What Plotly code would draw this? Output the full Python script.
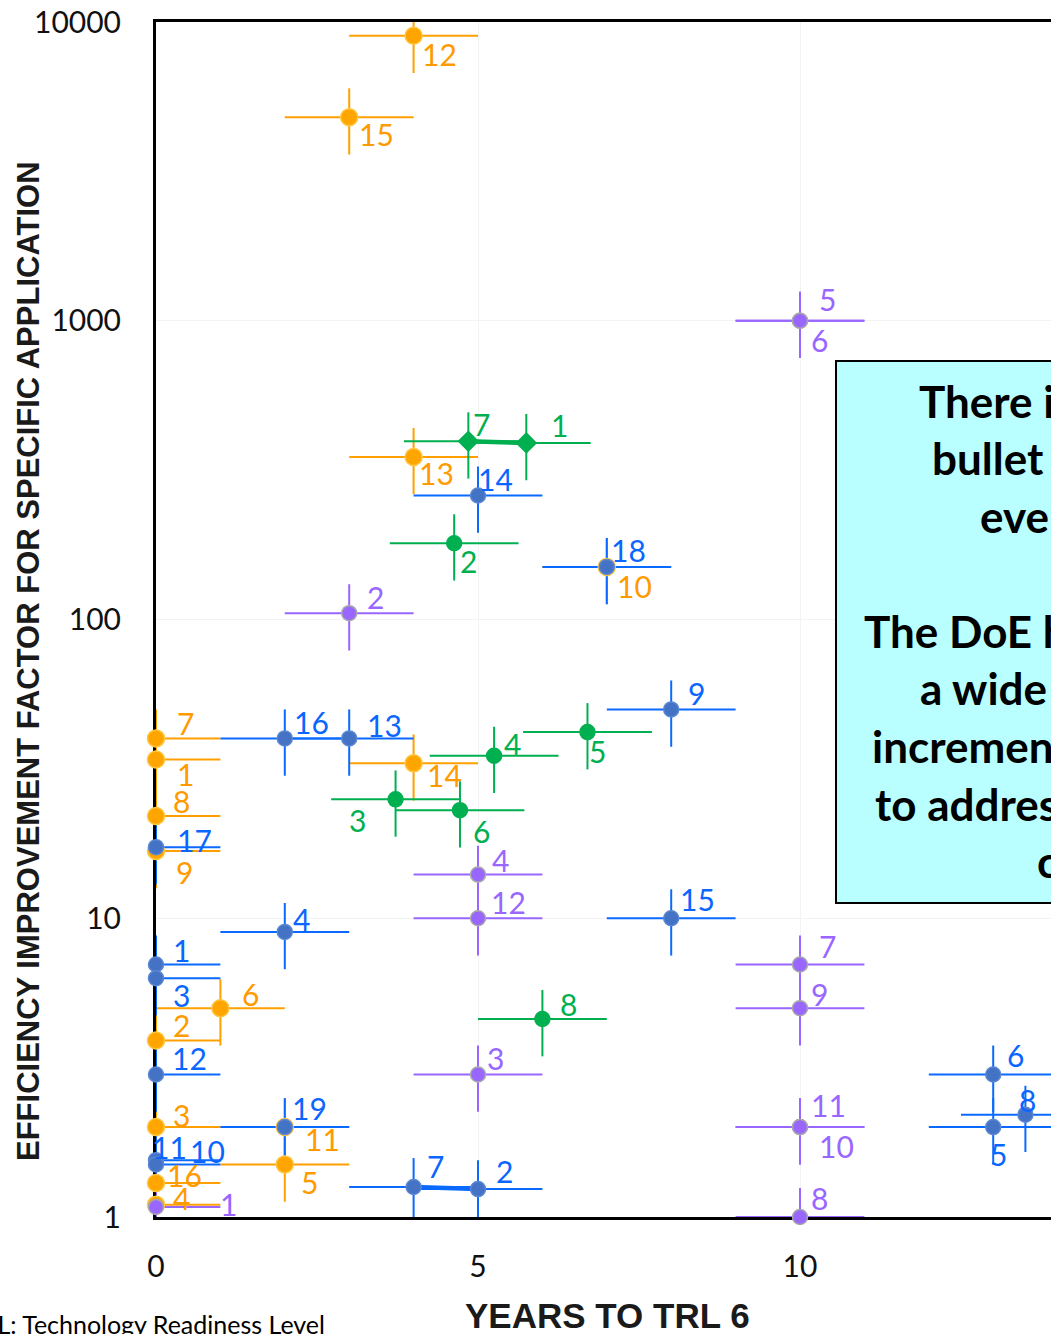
import math
import plotly.graph_objects as go

# ---------------------------------------------------------------------------
# Data: years to TRL 6 and efficiency improvement factor, one list per group
# ---------------------------------------------------------------------------
orange_ids = ["12", "15", "13", "10", "14", "7", "1", "8", "9", "6", "2", "3", "11", "5", "16", "4"]
orange_years = [4, 3, 4, 7, 4, 0, 0, 0, 0, 1, 0, 0, 2, 2, 0, 0]
orange_factor = [9000, 4800, 350, 150, 33, 40, 34, 22, 16.8, 5, 3.9, 2, 2, 1.5, 1.3, 1.1]

blue_ids = ["16", "13", "14", "18", "9", "4", "15", "1", "3", "12", "19", "11", "10", "7", "2", "6", "8", "5", "17"]
blue_years = [2, 3, 5, 7, 8, 2, 8, 0, 0, 0, 2, 0, 0, 4, 5, 13, 13.5, 13, 0]
blue_factor = [40, 40, 260, 150, 50, 9, 10, 7, 6.3, 3, 2, 1.55, 1.5, 1.26, 1.24, 3, 2.2, 2, 17.3]

purple_ids = ["5", "6", "2", "4", "12", "3", "7", "9", "11", "10", "8", "1"]
purple_years = [10, 10, 3, 5, 5, 5, 10, 10, 10, 10, 10, 0]
purple_factor = [1000, 1000, 105, 14, 10, 3, 7, 5, 2, 2, 1, 1.08]

green_ids = ["7", "1", "2", "4", "5", "3", "6", "8"]
green_years = [4.85, 5.75, 4.63, 5.25, 6.7, 3.72, 4.72, 6.0]
green_factor = [395, 390, 180, 35, 42, 25, 23, 4.6]

# uncertainty on every estimate
year_spread = 1.0          # +/- years
factor_spread_pct = 25     # +/- percent

# pairs of estimates joined by a bar
linked = [("green", "7", "1"), ("blue", "7", "2")]

x_ticks = [0, 5, 10]
y_ticks = [1, 10, 100, 1000, 10000]

box_lines = [
    "There is no silver",
    "bullet that will fix",
    "everything.",
    "",
    "The DoE has funded",
    "a wide variety of",
    "incremental approaches",
    "to address different",
    "challenges.",
]

# ---------------------------------------------------------------------------
# Styling
# ---------------------------------------------------------------------------
W, H = 1051, 1334
PL, PR, PT, PB = 156, 1051, 22, 1217      # plot area edges (px)
PX_PER_YEAR = 64.4

LABEL_FONT = "Lato"
TITLE_FONT = "Liberation Sans"

groups = {
    "orange": dict(ids=orange_ids, x=orange_years, y=orange_factor, size=17,
                   line="#FFA000", fill="#FFA500", edge="#FFC640", text="#FF9A00"),
    "blue": dict(ids=blue_ids, x=blue_years, y=blue_factor, size=15,
                 line="#0A6AFF", fill="#4472C4", edge="#5A86D2", text="#0A66FF"),
    "purple": dict(ids=purple_ids, x=purple_years, y=purple_factor, size=15,
                   line="#9966FF", fill="#9966FF", edge="#A8A8A8", text="#9966FF"),
    "green": dict(ids=green_ids, x=green_years, y=green_factor, size=15,
                  line="#00B050", fill="#00B050", edge="#00B050", text="#00B050"),
}
draw_order = ["orange", "blue", "purple", "green"]

diamond_points = {("green", "7"), ("green", "1")}

# label offset from its point, in screen pixels (right, down)
label_offset = {
    "orange": {"12": (26, 18), "15": (27, 17), "13": (23, 16), "10": (28, 19), "14": (31, 12),
               "7": (29, -15), "1": (29, 15), "8": (25, -15), "9": (28, 21), "6": (30, -14),
               "2": (25, -15), "3": (25, -12), "11": (38, 12), "5": (25, 18), "16": (28, -8),
               "4": (25, -7)},
    "blue": {"16": (27, -16), "13": (35, -13), "14": (17, -17), "18": (22, -17), "9": (25, -16),
             "4": (17, -13), "15": (26, -19), "1": (25, -15), "3": (25, 17), "12": (33, -16),
             "19": (25, -19), "11": (13, -13), "10": (51, -13), "7": (22, -21), "2": (26, -18),
             "6": (22, -19), "8": (2, -15), "5": (5, 27), "17": (38, -7)},
    "purple": {"5": (27, -22), "6": (19, 19), "2": (26, -16), "4": (22, -15), "12": (30, -16),
               "3": (17, -16), "7": (27, -19), "9": (19, -14), "11": (28, -22), "10": (36, 19),
               "8": (19, -19), "1": (72, -3)},
    "green": {"7": (13, -17), "1": (33, -18), "2": (14, 18), "4": (18, -12), "5": (10, 19),
              "3": (-38, 21), "6": (22, 21), "8": (26, -15)},
}


def paper_x(px):
    return (px - PL) / (PR - PL)


def paper_y(py):
    return (PB - py) / (PB - PT)


fig = go.Figure()

# error bars (clipped to the plot area)
for g in draw_order:
    s = groups[g]
    fig.add_trace(go.Scatter(
        x=s["x"], y=s["y"], mode="markers",
        marker=dict(size=1, color="rgba(0,0,0,0)"),
        error_x=dict(type="constant", value=year_spread, color=s["line"], thickness=2, width=0),
        error_y=dict(type="percent", value=factor_spread_pct, color=s["line"], thickness=2, width=0),
        cliponaxis=True, showlegend=False, hoverinfo="skip",
    ))

# bars joining linked estimates
for g, a, b in linked:
    s = groups[g]
    ia, ib = s["ids"].index(a), s["ids"].index(b)
    fig.add_trace(go.Scatter(
        x=[s["x"][ia], s["x"][ib]], y=[s["y"][ia], s["y"][ib]],
        mode="lines", line=dict(color=s["line"], width=4.5),
        showlegend=False, hoverinfo="skip",
    ))

# markers
for g in draw_order:
    s = groups[g]
    symbols = ["diamond" if (g, i) in diamond_points else "circle" for i in s["ids"]]
    fig.add_trace(go.Scatter(
        x=s["x"], y=s["y"], mode="markers",
        marker=dict(size=s["size"], symbol=symbols, color=s["fill"], opacity=1,
                    line=dict(color=s["edge"], width=1.5)),
        cliponaxis=False, showlegend=False, name=g,
    ))

annotations = []

# point labels
for g in draw_order:
    s = groups[g]
    for pid, xv, yv in zip(s["ids"], s["x"], s["y"]):
        dx, dy = label_offset[g][pid]
        annotations.append(dict(
            x=xv, y=math.log10(yv), xref="x", yref="y", text=pid, showarrow=False,
            xshift=dx, yshift=-dy, xanchor="center", yanchor="middle",
            font=dict(family=LABEL_FONT, size=30, color=s["text"]),
        ))

# text box contents, one line each
BOX_LEFT_PX = [917, 930, 978, None, 862, 918, 870, 873, 1035]
BOX_FIRST_BASELINE = 416
BOX_LINE_STEP = 57.5
for k, (line, left) in enumerate(zip(box_lines, BOX_LEFT_PX)):
    if not line:
        continue
    baseline = BOX_FIRST_BASELINE + k * BOX_LINE_STEP
    annotations.append(dict(
        x=paper_x(left), y=paper_y(baseline - 15), xref="paper", yref="paper",
        text="<b>%s</b>" % line, showarrow=False, xanchor="left", yanchor="middle",
        font=dict(family=LABEL_FONT, size=44, color="#000000"),
    ))

# axis titles
annotations.append(dict(
    x=paper_x(29), y=paper_y(661), xref="paper", yref="paper",
    text="<b>EFFICIENCY IMPROVEMENT FACTOR FOR SPECIFIC APPLICATION</b>",
    textangle=-90, showarrow=False, xanchor="center", yanchor="middle",
    font=dict(family=TITLE_FONT, size=31, color="#1A1A1A"),
))
annotations.append(dict(
    x=paper_x(607), y=paper_y(1315), xref="paper", yref="paper",
    text="<b>YEARS TO TRL 6</b>", showarrow=False, xanchor="center", yanchor="middle",
    font=dict(family=TITLE_FONT, size=35, color="#1A1A1A"),
))
annotations.append(dict(
    x=paper_x(327), y=paper_y(1324), xref="paper", yref="paper",
    text="TRL: Technology Readiness Level", showarrow=False, xanchor="right", yanchor="middle",
    font=dict(family=LABEL_FONT, size=25, color="#000000"),
))

shapes = [dict(
    type="rect", xref="paper", yref="paper",
    x0=paper_x(836), x1=paper_x(1400), y0=paper_y(903), y1=paper_y(361),
    fillcolor="#B9FFFF", line=dict(color="#000000", width=2), layer="above",
)]

fig.update_layout(
    width=W, height=H, autosize=False,
    margin=dict(l=PL, r=W - PR, t=PT, b=H - PB, pad=0),
    paper_bgcolor="white", plot_bgcolor="white",
    annotations=annotations, shapes=shapes, showlegend=False,
)

fig.update_xaxes(
    range=[0, (PR - PL) / PX_PER_YEAR],
    tickvals=x_ticks, ticktext=[str(v) for v in x_ticks],
    showline=True, linecolor="#000000", linewidth=3, mirror=True,
    showgrid=True, gridcolor="#F3F3F3", gridwidth=1, zeroline=False,
    ticks="outside", ticklen=21, tickcolor="rgba(0,0,0,0)",
    tickfont=dict(family=LABEL_FONT, size=30, color="#111111"),
    layer="below traces",
)
fig.update_yaxes(
    type="log", range=[0, 4],
    tickvals=y_ticks, ticktext=[str(v) for v in y_ticks],
    showline=True, linecolor="#000000", linewidth=3, mirror=False,
    showgrid=True, gridcolor="#F3F3F3", gridwidth=1, zeroline=False,
    ticks="outside", ticklen=26, tickcolor="rgba(0,0,0,0)",
    tickfont=dict(family=LABEL_FONT, size=30, color="#111111"),
    layer="below traces",
)

fig.write_html("out.html")
